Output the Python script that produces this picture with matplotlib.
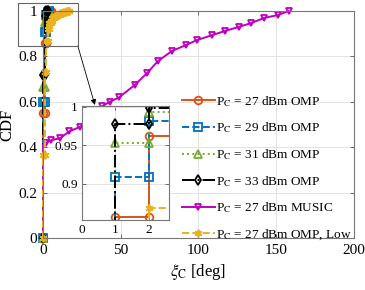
import matplotlib
matplotlib.use("Agg")
import matplotlib.pyplot as plt
from matplotlib.patches import Rectangle

plt.rcParams["font.family"] = ["Liberation Serif", "DejaVu Serif"]
plt.rcParams["mathtext.fontset"] = "stix"

# empirical CDF of the angle error, one value per integer degree (0, 1, 2, ...)
cdf_27 = [0.55, 0.857, 0.962, 0.988, 0.997, 1.0]
cdf_29 = [0.60, 0.909, 0.982, 0.995, 1.0]
cdf_31 = [0.665, 0.953, 0.993, 0.998, 1.0]
cdf_33 = [0.72, 0.978, 0.998, 1.0]
cdf_27_low = [0.366, 0.73, 0.868, 0.92, 0.945, 0.958, 0.967, 0.973, 0.978,
              0.982, 0.986, 0.989, 0.992, 0.994, 0.996, 0.998, 0.999, 1.0]

# MUSIC curve (continuous error)
music_x = [0, 0, 2, 5, 11, 17, 24, 30, 38, 43, 49, 59, 67, 74, 83, 92, 99,
           109, 117, 126, 134, 142, 151, 158]
music_y = [0, 0.41, 0.42, 0.43, 0.44, 0.47, 0.49, 0.53, 0.58, 0.60, 0.62,
           0.674, 0.727, 0.78, 0.824, 0.85, 0.872, 0.894, 0.912, 0.93, 0.947,
           0.969, 0.982, 1.0]

labels = [r"P$_\mathrm{C}$ = 27 dBm OMP", r"P$_\mathrm{C}$ = 29 dBm OMP",
          r"P$_\mathrm{C}$ = 31 dBm OMP", r"P$_\mathrm{C}$ = 33 dBm OMP",
          r"P$_\mathrm{C}$ = 27 dBm MUSIC", r"P$_\mathrm{C}$ = 27 dBm OMP, Low"]

asterisk = (6, 2, 0)
styles = [
    dict(color="#D95319", ls="-", marker="o"),
    dict(color="#0072BD", ls="--", marker="s"),
    dict(color="#77AC30", ls=":", marker="^"),
    dict(color="black", ls="-.", marker="d"),
    dict(color="#C000C0", ls="-", marker="v"),
    dict(color="#EDB120", ls="--", marker=asterisk),
]


def stairs(cdf):
    xs, ys = [0], [0]
    for k, v in enumerate(cdf):
        xs += [k, k + 1] if k + 1 < len(cdf) else [k]
        ys += [v, v] if k + 1 < len(cdf) else [v]
    return xs, ys


series = [stairs(cdf_27), stairs(cdf_29), stairs(cdf_31), stairs(cdf_33),
          (music_x, music_y), stairs(cdf_27_low)]

fig = plt.figure(figsize=(3.65, 2.9), dpi=100)
ax = fig.add_axes([0.1178, 0.1793, 0.852, 0.7828])
axin = fig.add_axes([0.2247, 0.2414, 0.2384, 0.3931])

for i in range(len(series)):
    xs, ys = series[i]
    st = styles[i]
    me = slice(2, None) if i == 4 else None
    ms = 5 if i == 4 else 5.5
    for a in (ax, axin):
        a.plot(xs, ys, color=st["color"], ls=st["ls"], marker=st["marker"],
               lw=1.4, ms=ms, mfc="none", mew=1.3, markevery=me,
               label=labels[i], clip_on=(a is axin))

for a in (ax, axin):
    a.grid(True, color="#e3e3e3", lw=0.7)
    a.set_axisbelow(True)
    a.tick_params(direction="in", top=True, right=True, length=3,
                  color="#555555", width=0.6)
    for s in a.spines.values():
        s.set_color("#777777")
        s.set_linewidth(0.8)

ax.set_xlim(0, 200)
ax.set_ylim(0, 1)
ax.set_xticks([0, 50, 100, 150, 200])
ax.set_yticks([0, 0.2, 0.4, 0.6, 0.8, 1])
ax.set_yticklabels(["0", "0.2", "0.4", "0.6", "0.8", "1"])
ax.tick_params(labelsize=11, pad=4)
ax.set_xlabel(r"$\xi_\mathrm{C}$ [deg]", fontsize=12, labelpad=4)
ax.set_ylabel("CDF", fontsize=12, labelpad=2)

axin.set_xlim(0, 2.6)
axin.set_ylim(0.853, 1.001)
axin.set_xticks([0, 1, 2])
axin.set_yticks([0.9, 0.95, 1])
axin.set_yticklabels(["0.9", "0.95", "1"])
axin.tick_params(labelsize=9.5, pad=3)

# zoom window and arrow
ax.add_patch(Rectangle((-16, 0.846), 38.4, 0.189, fill=False,
                       ec="#666666", lw=0.8, clip_on=False, zorder=5))
ax.annotate("", xy=(0.260, 0.638), xycoords="figure fraction",
            xytext=(22.4, 0.846), textcoords="data",
            arrowprops=dict(arrowstyle="-|>", color="black", lw=0.6,
                            mutation_scale=8, shrinkA=0, shrinkB=0))

leg = ax.legend(loc="lower right", bbox_to_anchor=(1.01, -0.04),
                frameon=False, fontsize=9.5, handlelength=2.5,
                handletextpad=0.1, labelspacing=0.9, borderaxespad=0)

fig.savefig("out.png", dpi=100)
